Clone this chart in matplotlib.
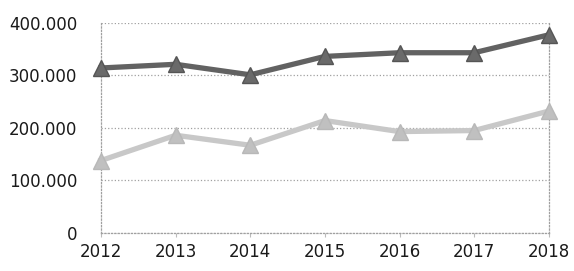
import numpy as np
import matplotlib
matplotlib.use('Agg')
import matplotlib.pyplot as plt
from matplotlib.ticker import FuncFormatter

years = [2012, 2013, 2014, 2015, 2016, 2017, 2018]
serie_alta = [314000, 321000, 301000, 336000, 343000, 343000, 377000]
serie_baja = [138000, 186000, 167000, 214000, 193000, 195000, 232000]
y_ticks = [0, 100000, 200000, 300000, 400000]


def miles(v, pos):
    return '{:,.0f}'.format(v).replace(',', '.')


fig = plt.figure(figsize=(5.74, 2.71), dpi=100)
ax = fig.add_axes([0.176, 0.140, 0.780, 0.776])

ax.plot(years, serie_baja, color='#c8c8c8', lw=3.8, marker='^', ms=11.5,
        mec='#b8b8b8', mfc='#c0c0c0', zorder=3, clip_on=False)
ax.plot(years, serie_alta, color='#626262', lw=3.8, marker='^', ms=11.5,
        mec='#555555', mfc='#6a6a6a', zorder=4, clip_on=False)

ax.set_xlim(2012, 2018)
ax.set_ylim(0, 400000)
ax.set_xticks(years)
ax.set_yticks(y_ticks)
ax.yaxis.set_major_formatter(FuncFormatter(miles))

ax.grid(axis='y', ls=':', color='#a0a0a0', lw=0.9)
for s in ax.spines.values():
    s.set_linestyle(':')
    s.set_color('#a0a0a0')
    s.set_linewidth(0.9)
ax.spines['top'].set_visible(False)

ax.tick_params(axis='x', length=3, color='#bbbbbb', pad=4, labelsize=12, labelcolor='#1a1a1a')
ax.tick_params(axis='y', length=0, pad=17, labelsize=12, labelcolor='#1a1a1a')

fig.savefig('out.png', dpi=100)
